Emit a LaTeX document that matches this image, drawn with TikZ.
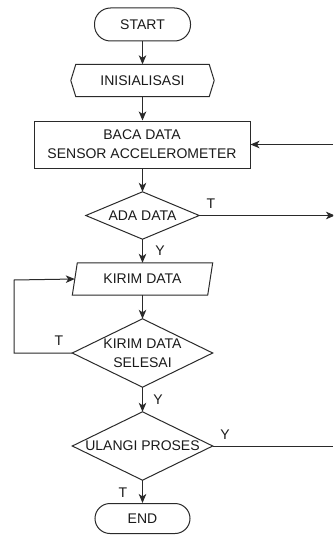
\documentclass[tikz,border=0pt]{standalone}
\usepackage{fontspec}
\setmainfont{Liberation Sans}
\usetikzlibrary{arrows.meta}
\definecolor{ln}{HTML}{2A2A2A}
\definecolor{tx}{HTML}{1A1A1A}
\begin{document}
\begin{tikzpicture}[x=1pt,y=-1pt,
  base/.style={rectangle, inner sep=0pt, align=center, text=tx, font=\fontsize{14}{19}\selectfont},
  shp/.style={draw=ln, line width=1pt},
  conn/.style={draw=ln, line width=1pt, -{Stealth[length=9pt,width=7.5pt,inset=2.5pt]}},
  line/.style={draw=ln, line width=1pt},
  lbl/.style={inner sep=0pt, text=tx, font=\fontsize{14}{16}\selectfont}]
\clip (0,0) rectangle (333,535);
\fill[white] (0,0) rectangle (333,535);

% nodes
\node[base, shp, rounded corners=16pt, minimum width=96pt, minimum height=33pt] (start) at (142.5,24.5) {START};
\node[base, minimum width=143pt, minimum height=32pt] (init) at (142.5,80.5) {INISIALISASI};
\draw[shp] (init.west) -- ([xshift=5pt]init.north west) -- ([xshift=-5pt]init.north east) -- (init.east) -- ([xshift=-5pt]init.south east) -- ([xshift=5pt]init.south west) -- cycle;
\node[base, shp, minimum width=216pt, minimum height=47pt] (baca) at (142,144.5) {BACA DATA\\SENSOR ACCELEROMETER};
\node[base, minimum width=113pt, minimum height=47pt] (ada) at (142.5,215.5) {ADA DATA};
\draw[shp] (ada.north) -- (ada.east) -- (ada.south) -- (ada.west) -- cycle;
\node[base, minimum width=140pt, minimum height=32pt] (kirim) at (142.5,279) {KIRIM DATA};
\draw[shp] (kirim.south west) -- ([xshift=5pt]kirim.north west) -- (kirim.north east) -- ([xshift=-5pt]kirim.south east) -- cycle;
\node[base, minimum width=140pt, minimum height=68pt] (sel) at (142.5,353) {KIRIM DATA\\SELESAI};
\draw[shp] (sel.north) -- (sel.east) -- (sel.south) -- (sel.west) -- cycle;
\node[base, minimum width=140pt, minimum height=68pt] (ulg) at (142.5,446) {ULANGI PROSES};
\draw[shp] (ulg.north) -- (ulg.east) -- (ulg.south) -- (ulg.west) -- cycle;
\node[base, shp, rounded corners=15pt, minimum width=95pt, minimum height=30pt] (fin) at (142.5,518.5) {END};

% edge coordinates
\coordinate (rin) at (333,144.5);
\coordinate (rout) at (335,215.5);
\coordinate (rulg) at (333,446);
\coordinate (lt) at (14,280);
\coordinate (lb) at (14,353);

% connectors
\draw[conn] (start.south) -- (init.north);
\draw[conn] (init.south) -- (init.south |- baca.north);
\draw[conn] (init.south |- baca.south) -- (ada.north);
\draw[conn] (ada.east) -- (rout);
\draw[conn] (ada.south) -- (kirim.north);
\draw[conn] (kirim.south) -- (sel.north);
\draw[conn] (sel.west) -- (lb) -- (lt) -- ([xshift=2.5pt]kirim.west);
\draw[conn] (sel.south) -- (ulg.north);
\draw[line] (ulg.east) -- (rulg);
\draw[conn] (ulg.south) -- (fin.north);
\draw[conn] (rin) -- (baca.east);

% labels
\node[lbl] (t1) at (211,204) {T};
\node[lbl] (y1) at (160,251) {Y};
\node[lbl] (t2) at (59,341) {T};
\node[lbl] (y2) at (158,400) {Y};
\node[lbl] (y3) at (225,435) {Y};
\node[lbl] (t3) at (123,493) {T};
\end{tikzpicture}
\end{document}
